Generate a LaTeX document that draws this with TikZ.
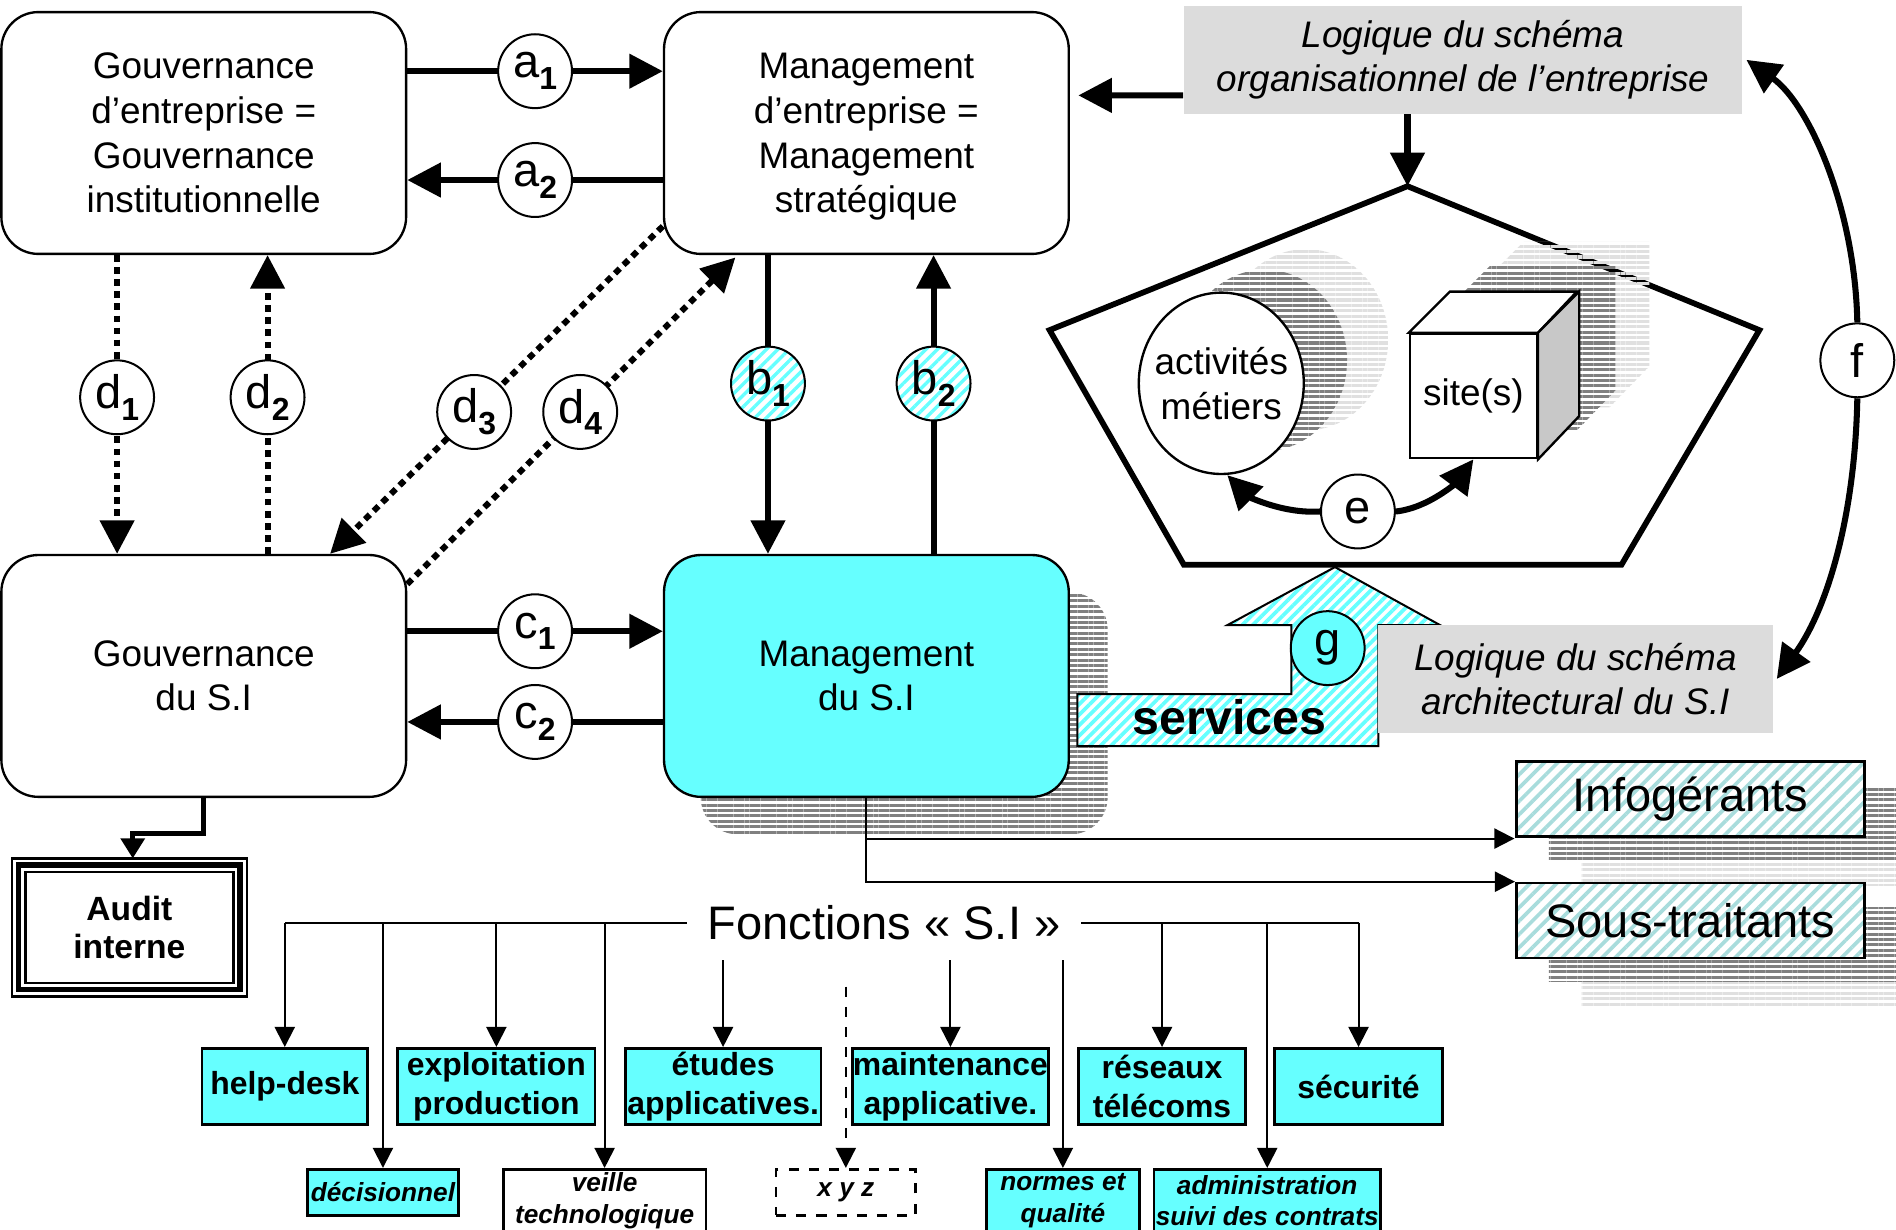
\documentclass[tikz,border=0pt]{standalone}
\usepackage{fontspec}
\setmainfont{Liberation Sans}
\usetikzlibrary{arrows.meta,patterns.meta,shapes.geometric}
\definecolor{sicyan}{HTML}{66FFFF}
\definecolor{logris}{HTML}{DCDCDC}
\definecolor{hachure}{HTML}{A8DCDC}
\definecolor{ombre}{HTML}{808080}
\definecolor{ombreclair}{HTML}{E0E0E0}
\definecolor{cubecote}{HTML}{C8C8C8}
\newcommand{\grosarw}{-{Triangle[length=10pt,width=10pt]}}
\newcommand{\finarw}{-{Triangle[length=6pt,width=6pt]}}
\newcommand{\moyarw}{-{Triangle[length=6pt,width=7pt]}}
\newcommand{\indice}[2]{#1\raisebox{-3.5pt}{\fontsize{9.5}{9.5}\selectfont\bfseries #2}}

\begin{document}
\begin{tikzpicture}[x=.36pt,y=-.36pt,
  bloc/.style={draw,line width=.7pt,rounded corners=11pt,minimum width=120.5pt,
    minimum height=72pt,align=center,font=\fontsize{11}{13.3}\selectfont},
  rond/.style={draw,solid,circle,line width=.6pt,minimum size=22pt,inner sep=0pt,
    font=\fontsize{14}{14}\selectfont},
  lab/.style={rond,fill=white},
  labhach/.style={rond,preaction={fill=white},
    pattern={Lines[angle=45,distance=2.4pt,line width=1pt]},pattern color=sicyan},
  logique/.style={fill=logris,inner sep=0pt,align=center,
    font=\fontsize{11}{13.3}\selectfont\itshape},
  fonc/.style={draw,fill=sicyan,line width=.8pt,inner sep=0pt,align=center,
    minimum height=22.7pt,font=\fontsize{9.5}{11.5}\selectfont\bfseries},
  fonc2/.style={draw,line width=.8pt,inner sep=0pt,align=center,
    font=\fontsize{7.8}{9.4}\selectfont\bfseries\itshape},
  ext/.style={draw,line width=.8pt,preaction={fill=white},
    pattern={Lines[angle=45,distance=2.8pt,line width=1.1pt]},pattern color=hachure,
    minimum width=103.7pt,minimum height=22.3pt,font=\fontsize{14}{14}\selectfont},
  grosse/.style={line width=1.8pt},
  pointille/.style={line width=1.8pt,dash pattern=on 2pt off 1.6pt},
  fine/.style={line width=.6pt},
  ombrage/.style={pattern={Lines[angle=0,distance=1.6pt,line width=.9pt]},pattern color=#1},
]
\useasboundingbox (0,0) rectangle (1568,1017);
\clip (0,0) rectangle (1568,1017);

%schema organisationnel
\coordinate (ptop) at (1164,154);
\draw[line width=1.7pt,line join=miter] (ptop) -- (1455,273) -- (1341,467) -- (979,467) -- (868,273) -- cycle;

%ombres
\fill[ombrage=ombre,rounded corners=11pt] (579.5,490) rectangle (916,690);
\foreach \dy in {0,100.5} {
  \fill[ombrage=ombreclair] (1308,670+\dy) rectangle (1600,732+\dy);
  \fill[ombrage=ombre] (1281,650+\dy) rectangle (1600,711+\dy);
}
\foreach \dx/\dy/\c in {70/-36/ombreclair,36/-19/ombre}
  \fill[ombrage=\c] (1010+\dx,317+\dy) ellipse [x radius=68,y radius=75];
\foreach \dx/\dy/\c in {60/-42/ombreclair,32/-22/ombre}
  \fill[ombrage=\c,shift={(\dx,\dy)}] (1166,379) -- (1166,276) -- (1200,242)
    -- (1304,242) -- (1304,345) -- (1271,379) -- cycle;

%blocs
\node[bloc] (ge) at (168.5,110) {Gouvernance\\d’entreprise =\\Gouvernance\\institutionnelle};
\node[bloc] (me) at (716.5,110) {Management\\d’entreprise =\\Management\\\raisebox{0pt}[\height][0pt]{stratégique}};
\node[bloc] (gsi) at (168.5,559) {Gouvernance\\du S.I};
\node[bloc,fill=sicyan] (msi) at (716.5,559) {Management\\du S.I};
\node[logique,minimum width=166.3pt,minimum height=32pt] (org) at (1210,49.5)
  {Logique du schéma\\organisationnel de l’entreprise};

%services
\draw[fine,preaction={fill=white},pattern={Lines[angle=45,distance=2.2pt,line width=1.1pt]},
  pattern color=sicyan] (891,617) -- (1140,617) -- (1140,517) -- (1191,517) -- (1104,469)
  -- (1015,517) -- (1068,517) -- (1068,574) -- (891,574) -- cycle;
\node[font=\fontsize{14.4}{14.4}\selectfont\bfseries] (serv) at (1017,593) {services};
\node[lab,fill=sicyan] (g) at (1098,536) {g};
\node[logique,minimum width=117.4pt,minimum height=32pt] (arch) at (1303,561.5)
  {Logique du schéma\\architectural du S.I};

%activites et sites
\node[draw,ellipse,fill=white,line width=.7pt,minimum width=49pt,minimum height=54pt,
  inner xsep=-2.5pt,inner ysep=0pt,align=center,font=\fontsize{11}{13.3}\selectfont]
  (act) at (1010,317) {activités\\métiers};
\node[draw,fill=white,line width=.7pt,minimum width=37.8pt,minimum height=37pt,inner sep=0pt,
  font=\fontsize{11}{13.3}\selectfont] (site) at (1218.5,327.5) {site(s)};
\draw[line width=.7pt,fill=white] (site.north west) -- ++(34,-34) -- ++(105,0) -- (site.north east) -- cycle;
\draw[line width=.7pt,fill=cubecote] (site.north east) -- ++(34,-34) -- ++(0,103) -- (site.south east) -- cycle;
\node[lab] (e) at (1123,423) {e};
\draw[grosse,\grosarw] (e.west) .. controls (1060,425) and (1032,410) .. ([xshift=1.8pt]act.south);
\draw[grosse,\grosarw] (e.east) .. controls (1182,420) and (1205,398) .. (site.south);
\draw[grosse,\grosarw] (org.south -| ptop) -- (ptop);
\draw[grosse,\grosarw] ([yshift=-10.6pt]org.west) -- ([xshift=2.5pt,yshift=11.2pt]me.east);

%f
\node[lab] (f) at (1536,298) {f};
\draw[grosse,\grosarw] (f.north) .. controls (1534,170) and (1495,85) .. ([xshift=1pt]org.east);
\draw[grosse,\grosarw] (f.south) .. controls (1534,430) and (1510,505) .. ([xshift=1pt]arch.east);

%a, b, c
\draw[grosse,\grosarw] ([yshift=18.4pt]ge.east) -- node[lab] (a1) {\indice{a}{1}} ([yshift=18.4pt]me.west);
\draw[grosse,\grosarw] ([yshift=-14pt]me.west) -- node[lab] (a2) {\indice{a}{2}} ([yshift=-14pt]ge.east);
\draw[grosse,\grosarw] ([xshift=-29.3pt]me.south) -- node[labhach,pos=.43] (b1) {\indice{b}{1}} ([xshift=-29.3pt]msi.north);
\draw[grosse,\grosarw] ([xshift=20pt]msi.north) -- node[labhach,pos=.57] (b2) {\indice{b}{2}} ([xshift=20pt]me.south);
\draw[grosse,\grosarw] ([yshift=13.3pt]gsi.east) -- node[lab] (c1) {\indice{c}{1}} ([yshift=13.3pt]msi.west);
\draw[grosse,\grosarw] ([yshift=-13.7pt]msi.west) -- node[lab] (c2) {\indice{c}{2}} ([yshift=-13.7pt]gsi.east);

%d
\draw[pointille,\grosarw] ([xshift=-25.8pt]ge.south) -- node[lab,pos=.476] (d1) {\indice{d}{1}} ([xshift=-25.8pt]gsi.north);
\draw[pointille,\grosarw] ([xshift=19pt]gsi.north) -- node[lab,pos=.524] (d2) {\indice{d}{2}} ([xshift=19pt]ge.south);
\draw[pointille,\grosarw] ([yshift=8.6pt]me.south west) -- node[lab,pos=.567] (d3) {\indice{d}{3}} ([xshift=37.6pt]gsi.north);
\draw[pointille,\grosarw] ([yshift=-9pt]gsi.north east) -- node[lab,pos=.527] (d4) {\indice{d}{4}} ([xshift=-39pt,yshift=-.7pt]me.south);

%audit
\node[font=\fontsize{10}{11.5}\selectfont\bfseries,align=center,minimum width=69.5pt,
  minimum height=40.7pt,inner sep=0pt] (audit) at (107,767) {Audit\\interne};
\draw[line width=.7pt] (audit.north west) rectangle (audit.south east);
\draw[line width=1.6pt] ([shift={(2pt,-2pt)}]audit.north west) rectangle ([shift={(-2pt,2pt)}]audit.south east);
\draw[line width=.7pt] ([shift={(4pt,-4pt)}]audit.north west) rectangle ([shift={(-4pt,4pt)}]audit.south east);
\draw[line width=1.5pt,\moyarw] (gsi.south) -- ++(0,29) -| ([xshift=1pt]audit.north);

%prestataires
\node[ext] (info) at (1398,661) {Infogérants};
\node[ext] (sous) at (1398,761.25) {Sous-traitants};
\draw[fine,\finarw] (msi.south) |- (info.south west);
\draw[fine,\finarw] (msi.south) |- (sous.north west);

%fonctions S.I
\node[font=\fontsize{14}{14}\selectfont,inner xsep=6pt] (fonctions) at (731,763) {Fonctions « S.I »};
\coordinate (fsous) at (731,794);
\coordinate (fxyz) at (731,816);
\node[fonc,minimum width=49.3pt] (help) at (235.5,898.5) {help-desk};
\node[fonc,minimum width=58.7pt] (exploit) at (410.5,898.5) {exploitation\\production};
\node[fonc,minimum width=58.3pt] (etudes) at (598,898.5) {études\\applicatives.};
\node[fonc,minimum width=58.3pt] (maint) at (786,898.5) {maintenance\\applicative.};
\node[fonc,minimum width=49.7pt] (reseaux) at (961,898.5) {réseaux\\télécoms};
\node[fonc,minimum width=50pt] (secu) at (1123.5,898.5) {sécurité};
\node[fonc2,fill=sicyan,minimum width=45pt,minimum height=13.7pt] (decis) at (316.7,986) {décisionnel};
\node[fonc2,fill=white,minimum width=60.3pt,minimum height=18.7pt] (veille) at (500,993) {veille\\technologique};
\node[fonc2,dashed,minimum width=41.5pt,minimum height=13.7pt] (xyz) at (699.5,986) {x y z};
\node[fonc2,fill=sicyan,minimum width=45.5pt,minimum height=18.7pt] (normes) at (879,993) {normes et\\qualité};
\node[fonc2,fill=sicyan,minimum width=67.5pt,minimum height=18.7pt] (admin) at (1048,993) {administration\\suivi des contrats};
\draw[fine] (fonctions.west) -- (help.north |- fonctions.west);
\draw[fine] (fonctions.east) -- (secu.north |- fonctions.east);
\foreach \b in {help,decis,exploit,veille,reseaux,admin,secu}
  \draw[fine,\finarw] (\b.north |- fonctions.west) -- (\b.north);
\foreach \b in {etudes,maint,normes}
  \draw[fine,\finarw] (\b.north |- fsous) -- (\b.north);
\draw[fine,dashed,\finarw] (xyz.north |- fxyz) -- (xyz.north);
\end{tikzpicture}
\end{document}
